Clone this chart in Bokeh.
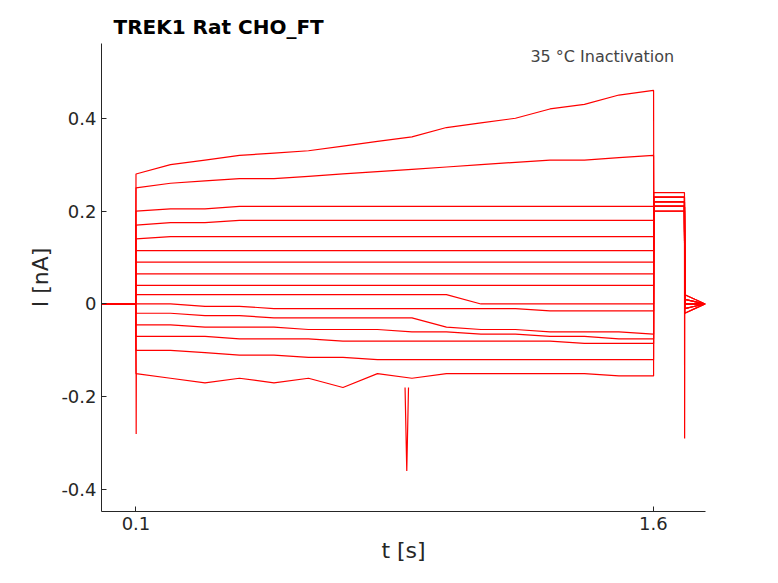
from bokeh.plotting import figure
from bokeh.embed import file_html
from bokeh.resources import INLINE
from bokeh.models import Range1d, Label, FixedTicker

times = [0.0, 0.05, 0.099, 0.1, 0.2, 0.3, 0.4, 0.5, 0.6, 0.7, 0.8, 0.9, 1.0, 1.1, 1.2, 1.3, 1.4, 1.5, 1.6]
step_levels = [
    [0.28, 0.30, 0.31, 0.32, 0.325, 0.33, 0.34, 0.35, 0.36, 0.38, 0.39, 0.40, 0.42, 0.43, 0.45, 0.46],
    [0.25, 0.26, 0.265, 0.27, 0.27, 0.275, 0.28, 0.285, 0.29, 0.295, 0.30, 0.305, 0.31, 0.31, 0.315, 0.32],
    [0.20, 0.205, 0.205, 0.21, 0.21, 0.21, 0.21, 0.21, 0.21, 0.21, 0.21, 0.21, 0.21, 0.21, 0.21, 0.21],
    [0.17, 0.175, 0.175, 0.18, 0.18, 0.18, 0.18, 0.18, 0.18, 0.18, 0.18, 0.18, 0.18, 0.18, 0.18, 0.18],
    [0.14, 0.145, 0.145, 0.145, 0.145, 0.145, 0.145, 0.145, 0.145, 0.145, 0.145, 0.145, 0.145, 0.145, 0.145, 0.145],
    [0.115, 0.115, 0.115, 0.115, 0.115, 0.115, 0.115, 0.115, 0.115, 0.115, 0.115, 0.115, 0.115, 0.115, 0.115, 0.115],
    [0.09, 0.09, 0.09, 0.09, 0.09, 0.09, 0.09, 0.09, 0.09, 0.09, 0.09, 0.09, 0.09, 0.09, 0.09, 0.09],
    [0.065, 0.065, 0.065, 0.065, 0.065, 0.065, 0.065, 0.065, 0.065, 0.065, 0.065, 0.065, 0.065, 0.065, 0.065, 0.065],
    [0.04, 0.04, 0.04, 0.04, 0.04, 0.04, 0.04, 0.04, 0.04, 0.04, 0.04, 0.04, 0.04, 0.04, 0.04, 0.04],
    [0.02, 0.02, 0.02, 0.02, 0.02, 0.02, 0.02, 0.02, 0.02, 0.02, 0.0, 0.0, 0.0, 0.0, 0.0, 0.0],
    [0.0, 0.0, -0.005, -0.005, -0.01, -0.01, -0.01, -0.01, -0.01, -0.01, -0.01, -0.01, -0.015, -0.015, -0.015, -0.015],
    [-0.02, -0.02, -0.025, -0.025, -0.03, -0.03, -0.03, -0.03, -0.03, -0.05, -0.055, -0.055, -0.06, -0.06, -0.06, -0.065],
    [-0.045, -0.045, -0.05, -0.05, -0.05, -0.055, -0.055, -0.055, -0.06, -0.06, -0.065, -0.065, -0.07, -0.07, -0.075, -0.075],
    [-0.07, -0.07, -0.07, -0.075, -0.075, -0.075, -0.08, -0.08, -0.08, -0.08, -0.08, -0.08, -0.08, -0.085, -0.085, -0.085],
    [-0.10, -0.10, -0.105, -0.11, -0.11, -0.115, -0.115, -0.12, -0.12, -0.12, -0.12, -0.12, -0.12, -0.12, -0.12, -0.12],
    [-0.15, -0.16, -0.17, -0.16, -0.17, -0.16, -0.18, -0.15, -0.16, -0.15, -0.15, -0.15, -0.15, -0.15, -0.155, -0.155],
]
pre_level = 0.0
tail_t = [1.601, 1.65, 1.69]
tail_levels = [0.20, 0.21, 0.22, 0.23, 0.24, 0.23, 0.22, 0.21, 0.21, 0.21, 0.21, 0.21, 0.20, 0.21, 0.22, 0.23]
post_t = [1.691, 1.72, 1.75]
post_levels = [0.0, -0.02, 0.02, 0.0, -0.01, 0.01, 0.0, -0.02, 0.01, 0.0, -0.01, 0.02, 0.0, -0.01, 0.01, 0.0]
spike_t = [0.1, 0.1005, 0.101, 0.88, 0.885, 0.89, 1.69, 1.6905, 1.691]
spike_v = [0.0, -0.28, -0.15, -0.18, -0.36, -0.18, 0.2, -0.29, 0.0]

F = "DejaVu Sans"
p = figure(width=760, height=565, output_backend="svg", toolbar_location=None,
           x_range=Range1d(0.0, 1.751), y_range=Range1d(-0.447, 0.561),
           min_border_left=101, min_border_right=55, min_border_top=43, min_border_bottom=53)
p.outline_line_color = None
p.grid.visible = False
for i, lv in enumerate(step_levels):
    xs = times[:3] + times[3:] + [1.6005] + tail_t + post_t
    ys = [pre_level] * 3 + lv + [lv[-1]] + [tail_levels[i]] * 3 + [post_levels[i], post_levels[i] * 0.5, 0.0]
    p.line(xs, ys, color="red", line_width=1.2)
p.line(spike_t[:3], spike_v[:3], color="red", line_width=1.2)
p.line(spike_t[3:6], spike_v[3:6], color="red", line_width=1.2)
p.line(spike_t[6:], spike_v[6:], color="red", line_width=1.2)

p.xaxis.ticker = FixedTicker(ticks=[0.1, 1.6])
p.yaxis.ticker = FixedTicker(ticks=[-0.4, -0.2, 0, 0.2, 0.4])
p.yaxis.major_label_overrides = {-0.4: "-0.4", -0.2: "-0.2", 0: "0", 0.2: "0.2", 0.4: "0.4"}
p.xaxis.axis_label = "t [s]"
p.yaxis.axis_label = "I [nA]"
for ax in (p.xaxis[0], p.yaxis[0]):
    ax.major_label_text_font_size = "18px"
    ax.axis_label_text_font_size = "22px"
    ax.major_label_text_font = F
    ax.axis_label_text_font = F
    ax.axis_label_text_font_style = "normal"
    ax.major_label_text_color = "#262626"
    ax.axis_label_text_color = "#262626"
    ax.axis_line_color = "#262626"
    ax.major_tick_line_color = "#262626"
    ax.minor_tick_line_color = None
    ax.major_tick_in = 5
    ax.major_tick_out = 0
p.title.text = "TREK1  Rat  CHO_FT"
p.title.text_font = F
p.title.text_font_size = "20px"
p.title.text_font_style = "bold"
p.title.text_color = "black"
p.title.offset = 12
p.add_layout(Label(x=1.675, y=0.533, text="35 °C  Inactivation", text_align="right",
                   text_baseline="middle", text_font_size="16px", text_font=F))
p.add_layout(Label(x=1.783, y=0.06, text="BBP Channelpedia ID 30034 rep 1", angle=1.5708,
                   text_align="center", text_baseline="middle", text_font_size="12px", text_font=F))
open("out.html", "w").write(file_html(p, INLINE))
